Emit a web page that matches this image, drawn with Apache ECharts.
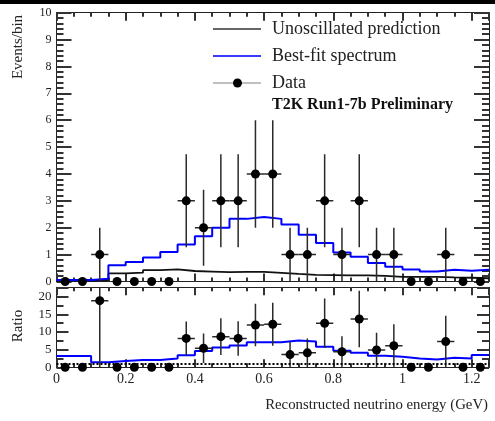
<!DOCTYPE html>
<html>
<head>
<meta charset="utf-8">
<script src="https://cdn.jsdelivr.net/npm/echarts@6/dist/echarts.min.js"></script>
<style>
  html, body { margin: 0; padding: 0; background: #fff; }
  #chart { width: 495px; height: 421px; }
</style>
</head>
<body>
<div id="chart"></div>
<script>
// Reconstructed energy binning (GeV): 25 bins of 0.05 GeV
const binEdges = [0, 0.05, 0.1, 0.15, 0.2, 0.25, 0.3, 0.35, 0.4, 0.45, 0.5, 0.55, 0.6,
  0.65, 0.7, 0.75, 0.8, 0.85, 0.9, 0.95, 1.0, 1.05, 1.1, 1.15, 1.2, 1.25];
const binCenters = [0.025, 0.075, 0.125, 0.175, 0.225, 0.275, 0.325, 0.375, 0.425, 0.475,
  0.525, 0.575, 0.625, 0.675, 0.725, 0.775, 0.825, 0.875, 0.925, 0.975, 1.025, 1.075,
  1.125, 1.175, 1.225];
const binHalfWidth = 0.025;

// Events per bin
const dataCounts = [0, 0, 1, 0, 0, 0, 0, 3, 2, 3, 3, 4, 4, 1, 1, 3, 1, 3, 1, 1, 0, 0, 1, 0, 0];
const dataErrors = [0, 0, 1, 0, 0, 0, 0, 1.73, 1.41, 1.73, 1.73, 2, 2, 1, 1, 1.73, 1, 1.73, 1, 1, 0, 0, 1, 0, 0];
const unoscillated = [0.02, 0.02, 0.055, 0.30, 0.33, 0.42, 0.45, 0.39, 0.37, 0.35, 0.36, 0.36,
  0.32, 0.28, 0.25, 0.24, 0.23, 0.23, 0.21, 0.17, 0.17, 0.17, 0.15, 0.14, 0.12];
const bestFit = [0.06, 0.06, 0.10, 0.60, 0.73, 0.89, 1.10, 1.38, 1.68, 2.00, 2.33, 2.40,
  2.33, 2.12, 1.74, 1.43, 1.08, 0.92, 0.69, 0.55, 0.45, 0.37, 0.44, 0.40, 0.44];

// Ratio to the unoscillated prediction
const ratioData = [0, 0, 18.9, 0, 0, 0, 0, 8.2, 5.4, 8.7, 8.2, 12.0, 12.2, 3.6, 4.1, 12.5,
  4.4, 13.7, 4.9, 6.1, 0, 0, 7.3, 0, 0];
const ratioErrors = [0, 0, 18.9, 0, 0, 0, 0, 4.8, 4.2, 5.2, 4.9, 6.0, 6.1, 3.6, 4.1, 7.0,
  4.4, 8.0, 4.9, 6.1, 0, 0, 7.3, 0, 0];
const ratioBestFit = [3.2, 3.2, 1.4, 1.8, 2.1, 2.1, 2.5, 3.4, 4.6, 5.6, 6.2, 7.1, 7.1, 7.6,
  7.3, 5.8, 4.7, 4.1, 3.3, 3.0, 2.5, 2.2, 2.7, 2.5, 3.5];

// Axis tick labels
const eventTicks = [0, 1, 2, 3, 4, 5, 6, 7, 8, 9, 10];
const ratioTicks = [0, 5, 10, 15, 20];
const energyTicks = [0, 0.2, 0.4, 0.6, 0.8, 1, 1.2];

const E_MAX = 1.25, EVENTS_MAX = 10, RATIO_MAX = 22.7;
const FONT = '"Liberation Serif", "DejaVu Serif", serif';
const INK = '#222';
const TICK = { color: '#333', width: 2 };

// histogram outline: each bin's value from its left edge, closed at the last edge
function stepData(values) {
  return binEdges.map((e, i) => [e, values[Math.min(i, values.length - 1)]]);
}
function pointData(values, errors) {
  return binCenters.map((c, i) => [c, values[i], errors[i]]);
}

function errorBars(params, api) {
  const x = api.value(0), y = api.value(1), e = api.value(2);
  if (!(e > 0)) return { type: 'group', children: [] };
  const l = api.coord([x - binHalfWidth, y]);
  const r = api.coord([x + binHalfWidth, y]);
  const t = api.coord([x, y + e]);
  const b = api.coord([x, y - e]);
  const style = { stroke: '#2a2a2a', lineWidth: 1.5 };
  return {
    type: 'group',
    children: [
      { type: 'line', shape: { x1: l[0], y1: l[1], x2: r[0], y2: r[1] }, style },
      { type: 'line', shape: { x1: t[0], y1: t[1], x2: b[0], y2: b[1] }, style }
    ]
  };
}

function xAxisDef(gridIndex, position, showLabels) {
  return {
    type: 'value', gridIndex, position, min: 0, max: E_MAX, interval: 0.2,
    axisLine: { show: true, onZero: false, lineStyle: { color: INK, width: 1 } },
    axisTick: { show: true, inside: true, length: 8, lineStyle: { color: TICK.color, width: TICK.width } },
    minorTick: { show: true, splitNumber: 4, length: 4, lineStyle: { color: TICK.color, width: TICK.width } },
    axisLabel: {
      show: showLabels, margin: 5, color: INK, fontFamily: FONT, fontSize: 14,
      customValues: energyTicks
    },
    splitLine: { show: false }, minorSplitLine: { show: false }
  };
}

function yAxisDef(gridIndex, position, max, interval, ticks, cfg) {
  return {
    type: 'value', gridIndex, position, min: 0, max, interval,
    axisLine: { show: true, onZero: false, lineStyle: { color: INK, width: 1 } },
    axisTick: { show: true, inside: true, length: cfg.major, lineStyle: { color: TICK.color, width: TICK.width } },
    minorTick: { show: true, splitNumber: cfg.split, length: cfg.minor, lineStyle: { color: TICK.color, width: TICK.width } },
    axisLabel: {
      show: position === 'left', margin: 5, color: INK, fontFamily: FONT, fontSize: cfg.font,
      customValues: ticks
    },
    splitLine: { show: false }, minorSplitLine: { show: false }
  };
}

const eventsAxis = { major: 15, minor: 7, split: 5, font: 12 };
const ratioAxis = { major: 12, minor: 7, split: 2, font: 13 };

const chart = echarts.init(document.getElementById('chart'), null, { renderer: 'canvas' });

chart.setOption({
  backgroundColor: '#fff',
  animation: false,
  grid: [
    { left: 56.5, right: 6, top: 12.7, height: 268.8 },
    { left: 56.5, right: 6, top: 287.3, height: 80 }
  ],
  xAxis: [
    xAxisDef(0, 'bottom', false),
    xAxisDef(0, 'top', false),
    xAxisDef(1, 'bottom', true),
    xAxisDef(1, 'top', false)
  ],
  yAxis: [
    yAxisDef(0, 'left', EVENTS_MAX, 1, eventTicks, eventsAxis),
    yAxisDef(0, 'right', EVENTS_MAX, 1, eventTicks, eventsAxis),
    yAxisDef(1, 'left', RATIO_MAX, 5, ratioTicks, ratioAxis),
    yAxisDef(1, 'right', RATIO_MAX, 5, ratioTicks, ratioAxis)
  ],
  series: [
    {
      name: 'Unoscillated prediction', type: 'line', xAxisIndex: 0, yAxisIndex: 0,
      step: 'end', symbol: 'none', data: stepData(unoscillated),
      lineStyle: { color: '#111', width: 1.8 }, z: 2
    },
    {
      name: 'Best-fit spectrum', type: 'line', xAxisIndex: 0, yAxisIndex: 0,
      step: 'end', symbol: 'none', data: stepData(bestFit),
      lineStyle: { color: '#0000ff', width: 2 }, z: 3
    },
    {
      name: 'Data errors', type: 'custom', xAxisIndex: 0, yAxisIndex: 0,
      renderItem: errorBars, data: pointData(dataCounts, dataErrors),
      encode: { x: 0, y: 1 }, clip: true, z: 4
    },
    {
      name: 'Data', type: 'scatter', xAxisIndex: 0, yAxisIndex: 0,
      symbol: 'circle', symbolSize: 9, itemStyle: { color: '#000', opacity: 1 },
      data: binCenters.map((c, i) => [c, dataCounts[i]]), clip: false, z: 5
    },
    {
      name: 'Best-fit ratio', type: 'line', xAxisIndex: 2, yAxisIndex: 2,
      step: 'end', symbol: 'none', data: stepData(ratioBestFit),
      lineStyle: { color: '#0000ff', width: 2 }, z: 3,
      markLine: {
        silent: true, symbol: 'none', label: { show: false },
        lineStyle: { color: '#000', width: 2, type: [2, 2] },
        data: [{ yAxis: 1 }]
      }
    },
    {
      name: 'Ratio errors', type: 'custom', xAxisIndex: 2, yAxisIndex: 2,
      renderItem: errorBars, data: pointData(ratioData, ratioErrors),
      encode: { x: 0, y: 1 }, clip: true, z: 4
    },
    {
      name: 'Ratio', type: 'scatter', xAxisIndex: 2, yAxisIndex: 2,
      symbol: 'circle', symbolSize: 9, itemStyle: { color: '#000', opacity: 1 },
      data: binCenters.map((c, i) => [c, ratioData[i]]), clip: false, z: 5
    }
  ],
  graphic: [
    { type: 'rect', shape: { x: 0, y: 0, width: 495, height: 4 }, style: { fill: '#000' }, silent: true },
    // legend
    { type: 'line', shape: { x1: 213, y1: 29, x2: 261, y2: 29 }, style: { stroke: '#333', lineWidth: 1.6 } },
    { type: 'text', x: 272, y: 29, style: { text: 'Unoscillated prediction', font: '18px ' + FONT, fill: INK, verticalAlign: 'middle' } },
    { type: 'line', shape: { x1: 213, y1: 56, x2: 261, y2: 56 }, style: { stroke: '#3a3aff', lineWidth: 1.8 } },
    { type: 'text', x: 272, y: 56, style: { text: 'Best-fit spectrum', font: '18px ' + FONT, fill: INK, verticalAlign: 'middle' } },
    { type: 'line', shape: { x1: 213, y1: 83, x2: 261, y2: 83 }, style: { stroke: '#aaa', lineWidth: 1.6 } },
    { type: 'circle', shape: { cx: 237.5, cy: 83, r: 4.5 }, style: { fill: '#000' } },
    { type: 'text', x: 272, y: 83, style: { text: 'Data', font: '18px ' + FONT, fill: INK, verticalAlign: 'middle' } },
    { type: 'text', x: 272, y: 105, style: { text: 'T2K Run1-7b Preliminary', font: 'bold 16px ' + FONT, fill: '#111', verticalAlign: 'middle' } },
    // axis titles
    { type: 'text', x: 18, y: 47, rotation: Math.PI / 2, style: { text: 'Events/bin', font: '15px ' + FONT, fill: INK, align: 'center', verticalAlign: 'middle' } },
    { type: 'text', x: 18, y: 326, rotation: Math.PI / 2, style: { text: 'Ratio', font: '15px ' + FONT, fill: INK, align: 'center', verticalAlign: 'middle' } },
    { type: 'text', x: 488, y: 405, style: { text: 'Reconstructed neutrino energy (GeV)', font: '14.8px ' + FONT, fill: INK, align: 'right', verticalAlign: 'middle' } }
  ]
});
</script>
</body>
</html>
